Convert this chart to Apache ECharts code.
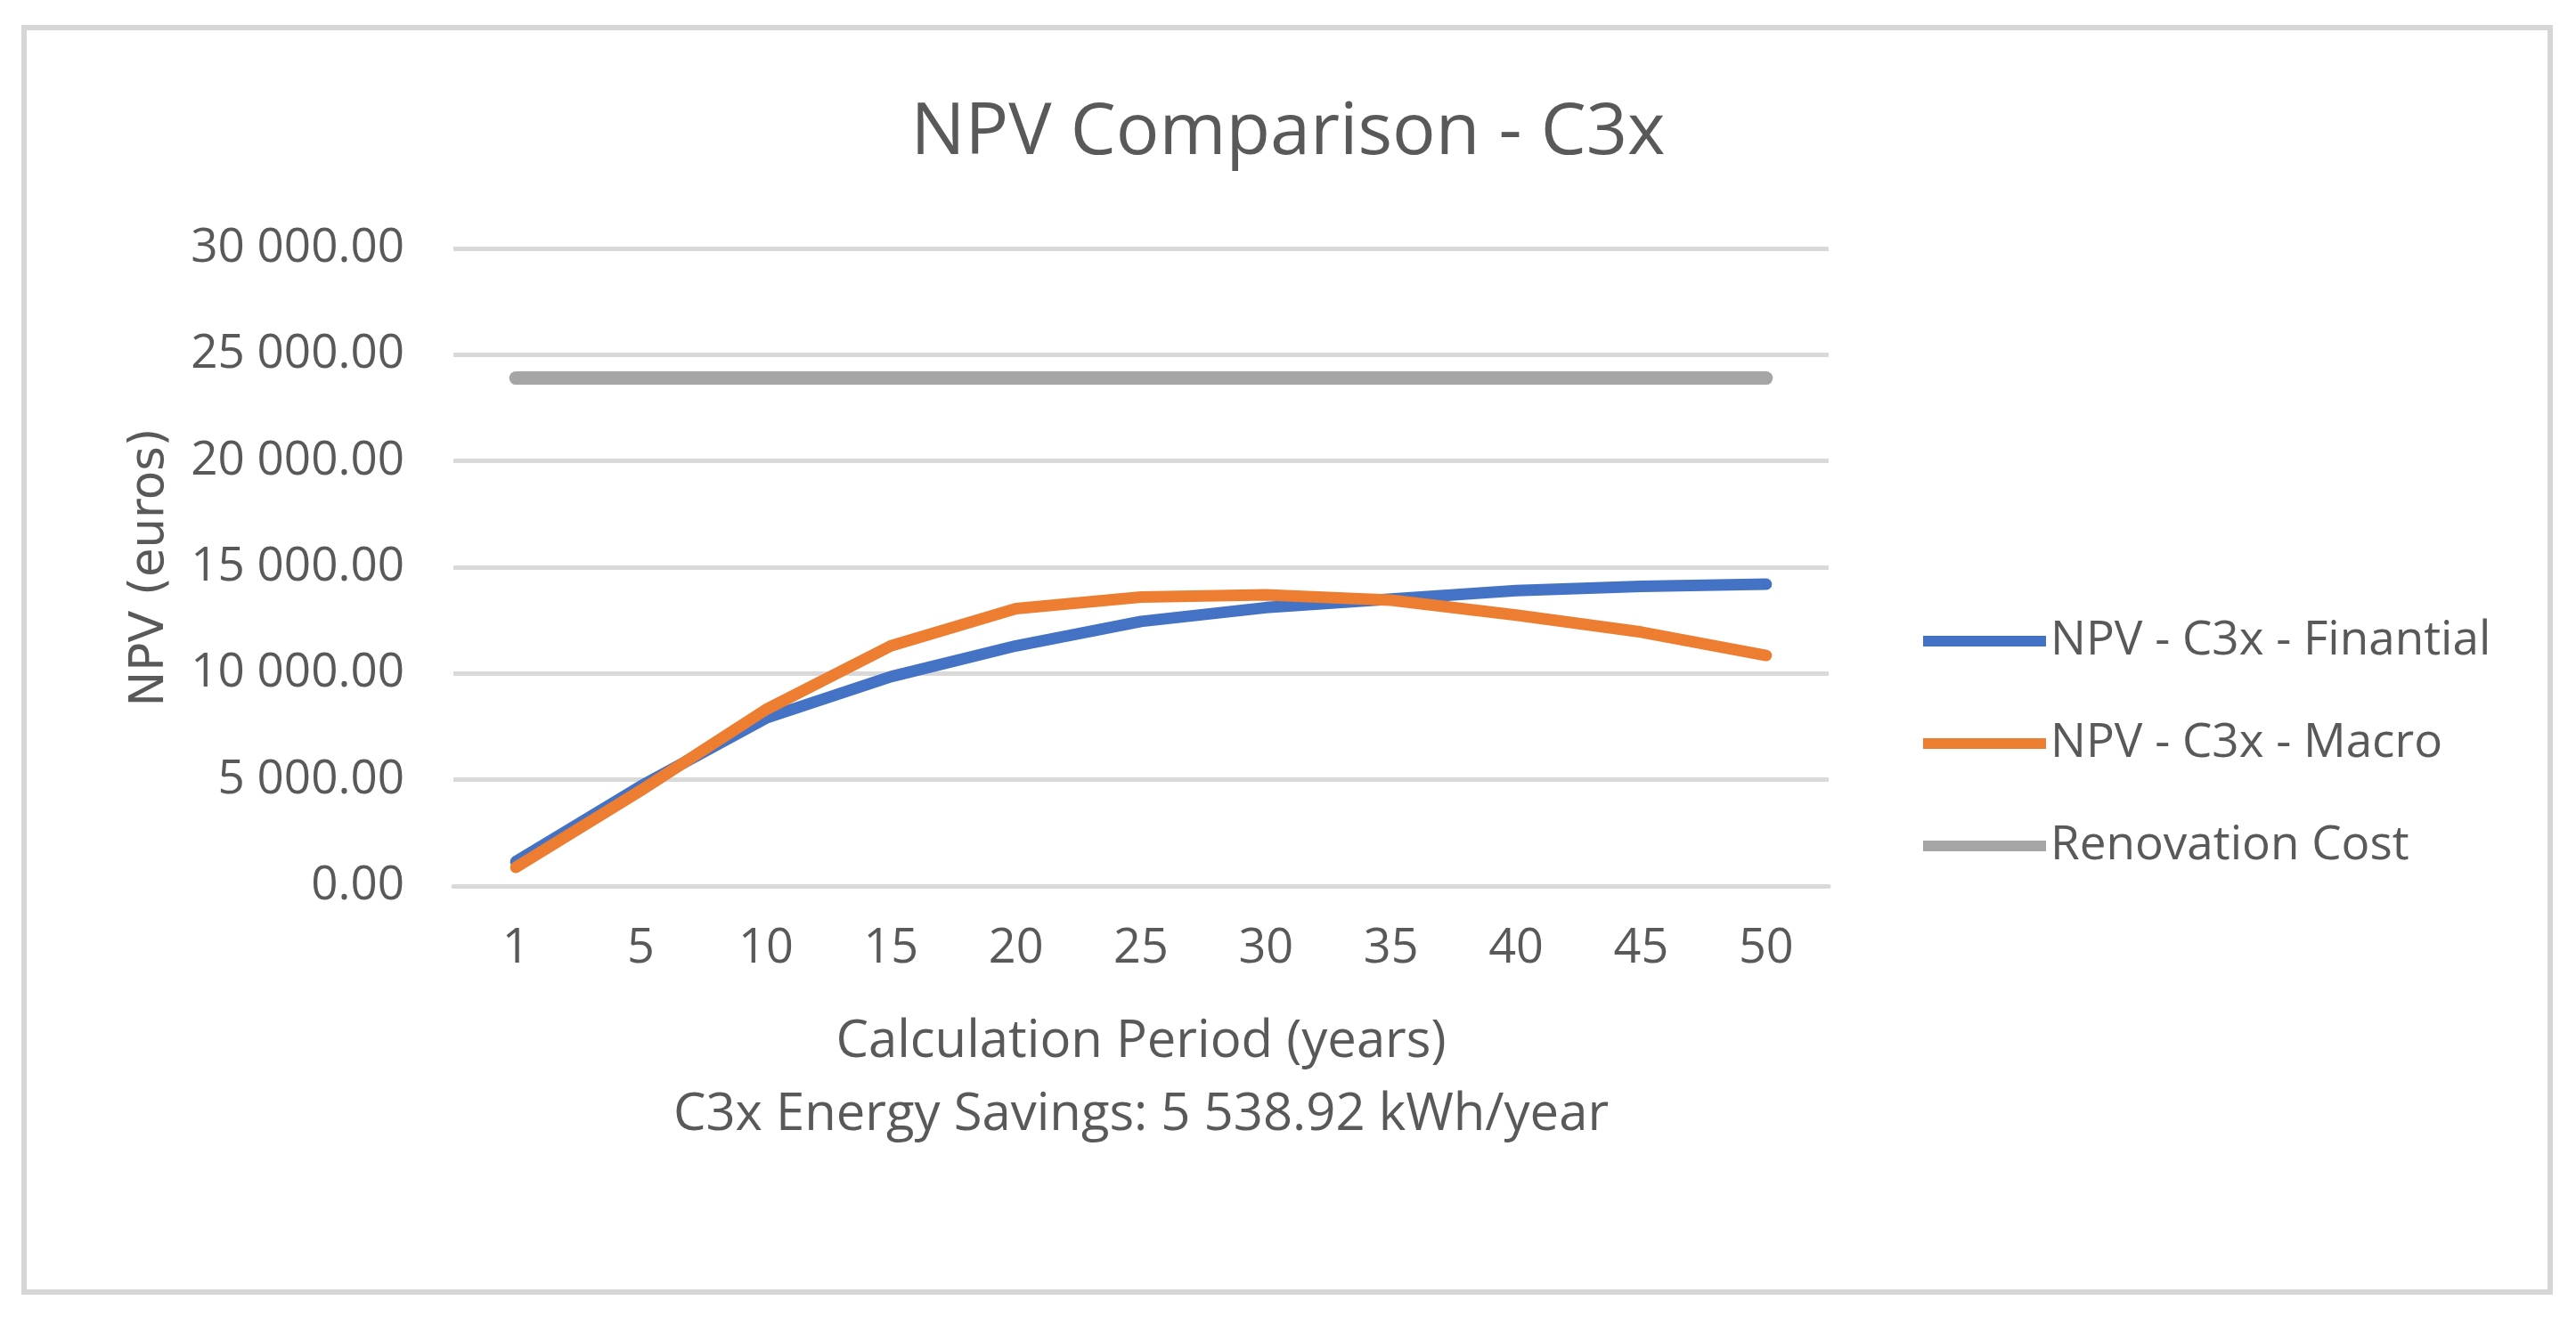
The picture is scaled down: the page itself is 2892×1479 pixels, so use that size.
<!DOCTYPE html>
<html>
<head>
<meta charset="utf-8">
<script src="https://cdn.jsdelivr.net/npm/echarts@6/dist/echarts.min.js"></script>
<style>
html,body{margin:0;padding:0;background:#fff;}
#chart{width:2892px;height:1479px;}
</style>
</head>
<body>
<div id="chart"></div>
<script>
const years = ['1','5','10','15','20','25','30','35','40','45','50'];
const npvFinantial = [1150, 4700, 7900, 9850, 11300, 12450, 13100, 13500, 13900, 14100, 14200];
const npvMacro = [880, 4500, 8300, 11300, 13050, 13600, 13700, 13450, 12750, 11950, 10850];
const renovationCost = [23900, 23900, 23900, 23900, 23900, 23900, 23900, 23900, 23900, 23900, 23900];
const seriesNames = ['NPV - C3x - Finantial', 'NPV - C3x - Macro', 'Renovation Cost'];
const seriesColors = ['#4472C4', '#ED7D31', '#A5A5A5'];
const chartTitle = 'NPV Comparison - C3x';
const xName = 'Calculation Period (years)\nC3x Energy Savings: 5 538.92 kWh/year';
const yName = 'NPV (euros)';

const FONT = "'Open Sans', sans-serif";
const TXT = '#595959';

function fmt(v){
  const s = v.toFixed(2);
  const parts = s.split('.');
  parts[0] = parts[0].replace(/\B(?=(\d{3})+(?!\d))/g, ' ');
  return parts.join('.');
}

const chart = echarts.init(document.getElementById('chart'));
chart.setOption({
  backgroundColor: '#ffffff',
  animation: false,
  graphic: [{
    type: 'rect',
    shape: {x: 27, y: 31, width: 2836, height: 1420},
    style: {fill: 'none', stroke: '#d6d6d6', lineWidth: 6},
    silent: true
  }],
  title: {
    text: chartTitle,
    left: 'center',
    top: 104,
    textStyle: {fontFamily: FONT, fontSize: 81, fontWeight: 'normal', color: TXT}
  },
  legend: {
    orient: 'vertical',
    left: 2154,
    top: 680,
    itemWidth: 138,
    itemHeight: 12,
    itemGap: 45,
    icon: 'rect',
    textStyle: {fontFamily: FONT, fontSize: 53, color: TXT, lineHeight: 70},
    data: seriesNames
  },
  grid: {left: 509, right: 839, top: 279, bottom: 484, containLabel: false},
  xAxis: {
    type: 'category',
    data: years,
    boundaryGap: true,
    name: xName,
    nameLocation: 'middle',
    nameGap: 134,
    nameTextStyle: {fontFamily: FONT, fontSize: 58, color: TXT, lineHeight: 82},
    axisLine: {show: true, lineStyle: {color: '#d9d9d9', width: 5}},
    axisTick: {show: false},
    axisLabel: {fontFamily: FONT, fontSize: 54, color: TXT, margin: 44}
  },
  yAxis: {
    type: 'value',
    min: 0,
    max: 30000,
    interval: 5000,
    name: yName,
    nameLocation: 'middle',
    nameRotate: 90,
    nameGap: 313,
    nameTextStyle: {fontFamily: "'DejaVu Sans', sans-serif", fontSize: 53, color: TXT},
    axisLine: {show: false},
    axisTick: {show: false},
    splitLine: {lineStyle: {color: '#d9d9d9', width: 5}},
    axisLabel: {fontFamily: FONT, fontSize: 53, color: TXT, margin: 55, formatter: fmt}
  },
  series: [
    {name: seriesNames[0], type: 'line', data: npvFinantial, symbol: 'none', z: 3,
     lineStyle: {color: seriesColors[0], width: 13, cap: 'round', join: 'round'}, itemStyle: {color: seriesColors[0]}},
    {name: seriesNames[1], type: 'line', data: npvMacro, symbol: 'none', z: 4,
     lineStyle: {color: seriesColors[1], width: 13, cap: 'round', join: 'round'}, itemStyle: {color: seriesColors[1]}},
    {name: seriesNames[2], type: 'line', data: renovationCost, symbol: 'none', z: 2,
     lineStyle: {color: seriesColors[2], width: 15, cap: 'round', join: 'round'}, itemStyle: {color: seriesColors[2]}}
  ]
});
</script>
</body>
</html>
